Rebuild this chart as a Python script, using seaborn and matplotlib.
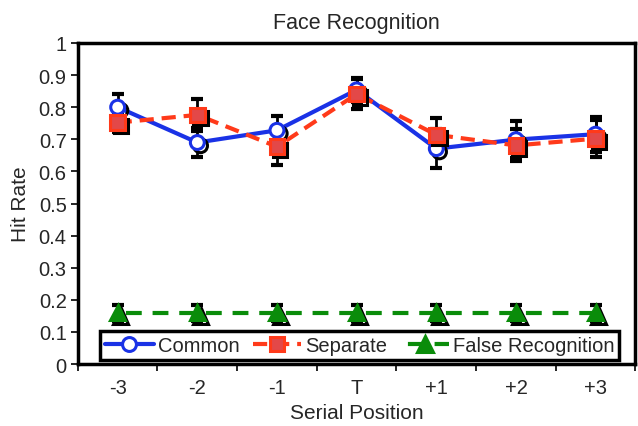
import matplotlib
matplotlib.use("Agg")
import matplotlib.pyplot as plt
import matplotlib.patheffects as pe
from matplotlib.lines import Line2D
import numpy as np
import pandas as pd
import seaborn as sns

positions = ["-3", "-2", "-1", "T", "+1", "+2", "+3"]
common = [0.80, 0.69, 0.728, 0.854, 0.671, 0.699, 0.716]
common_err = [0.04, 0.046, 0.045, 0.038, 0.06, 0.057, 0.055]
separate = [0.752, 0.776, 0.677, 0.841, 0.714, 0.681, 0.702]
separate_err = [0.03, 0.05, 0.056, 0.046, 0.052, 0.05, 0.058]
false_rec = [0.16, 0.16, 0.16, 0.16, 0.16, 0.16, 0.16]
false_err = [0.025, 0.025, 0.025, 0.025, 0.025, 0.025, 0.025]

sns.set_style("ticks")
plt.rcParams["font.family"] = ["Liberation Sans", "DejaVu Sans"]

fig = plt.figure(figsize=(6.38, 4.27), dpi=100)
ax = fig.add_axes([0.122, 0.145, 0.874, 0.752])

x = np.arange(len(positions))
df = pd.DataFrame({"x": np.tile(x, 3),
                   "rate": common + separate + false_rec,
                   "group": ["Common"] * 7 + ["Separate"] * 7 + ["False Recognition"] * 7})

shadow = [pe.SimpleLineShadow(offset=(2.3, -2.3), shadow_color="black", alpha=1.0), pe.Normal()]

styles = {
    "False Recognition": dict(color="#0a8c0a", ls=(4.5, (3.8, 2.6)), marker="^", mfc="#0a8c0a", mec="#0a8c0a", ms=11),
    "Common": dict(color="#1a32e6", ls="-", marker="o", mfc="white", mec="#1a32e6", ms=10),
    "Separate": dict(color="#ff3a1a", ls=(0, (3.4, 1.9)), marker="s", mfc="#e34848", mec="#ff3a1a", ms=10.5),
}
errs = {"Common": common_err, "Separate": separate_err, "False Recognition": false_err}

for name in ["False Recognition", "Common", "Separate"]:
    sub = df[df["group"] == name]
    ax.errorbar(sub["x"], sub["rate"], yerr=errs[name], fmt="none", ecolor="black",
                elinewidth=2, capsize=4, capthick=3, zorder=2)
    st = styles[name]
    sns.lineplot(data=sub, x="x", y="rate", ax=ax, color=st["color"], linestyle=st["ls"],
                 linewidth=3, zorder=3, legend=False)
    ax.plot(sub["x"], sub["rate"], ls="none", marker=st["marker"], ms=st["ms"],
            mfc=st["mfc"], mec=st["mec"], mew=2.2, zorder=4, path_effects=shadow)

names = ["Common", "Separate", "False Recognition"]
handles = [Line2D([], [], color=styles[n]["color"], ls=styles[n]["ls"], lw=3, marker=styles[n]["marker"],
                  ms=styles[n]["ms"], mfc=styles[n]["mfc"], mec=styles[n]["mec"], mew=2.2)
           for n in names]
leg = ax.legend(handles, names, ncol=3, loc="lower left", mode="expand",
                bbox_to_anchor=(0.04, 0.013, 0.931, 0.087), borderaxespad=0,
                fontsize=14.5, frameon=True, fancybox=False,
                handlelength=2.4, handletextpad=0.2, columnspacing=1.0, borderpad=0.25,
                edgecolor="black", framealpha=1)
leg.get_frame().set_linewidth(2.5)

ax.set_xlim(-0.5, 6.5)
ax.set_ylim(0, 1)
ax.set_yticks(np.arange(0, 1.01, 0.1))
ax.set_yticklabels(["0", "0.1", "0.2", "0.3", "0.4", "0.5", "0.6", "0.7", "0.8", "0.9", "1"])
ax.set_xticks(np.arange(-0.5, 6.6, 1))
ax.set_xticklabels([])
ax.set_xticks(x, minor=True)
ax.set_xticklabels(positions, minor=True)
ax.tick_params(axis="x", which="minor", length=0, pad=10, labelsize=14.5)
ax.tick_params(axis="x", which="major", length=5, width=1.2, color="black")
ax.tick_params(axis="y", length=5, width=1.2, color="black", labelsize=14.5, pad=3)
for s in ax.spines.values():
    s.set_linewidth(2.5)
    s.set_color("black")
ax.set_xlabel("Serial Position", fontsize=15, labelpad=4)
ax.set_ylabel("Hit Rate", fontsize=15, labelpad=6)
ax.set_title("Face Recognition", fontsize=15.5, pad=11)

fig.savefig("out.png", dpi=100)
